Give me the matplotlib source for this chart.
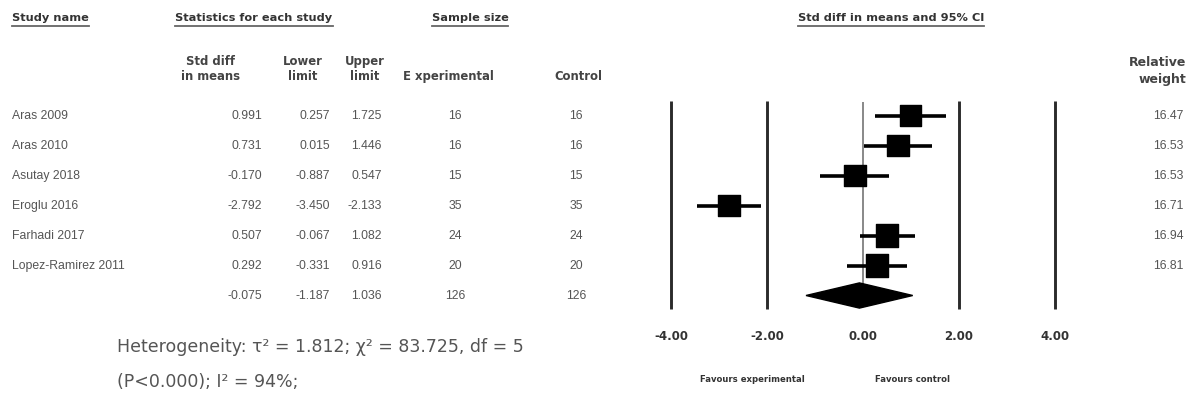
import matplotlib.pyplot as plt
import matplotlib.transforms as mtransforms
from matplotlib.patches import Polygon

# study level results (std diff in means, 95% CI), sample sizes, relative weights
studies = ["Aras 2009", "Aras 2010", "Asutay 2018", "Eroglu 2016",
           "Farhadi 2017", "Lopez-Ramirez 2011"]
smd = [0.991, 0.731, -0.170, -2.792, 0.507, 0.292]
lower = [0.257, 0.015, -0.887, -3.450, -0.067, -0.331]
upper = [1.725, 1.446, 0.547, -2.133, 1.082, 0.916]
n_exp = [16, 16, 15, 35, 24, 20]
n_ctl = [16, 16, 15, 35, 24, 20]
weights = [16.47, 16.53, 16.53, 16.71, 16.94, 16.81]

# pooled estimate
pooled = [-0.075, -1.187, 1.036]
pooled_n = [126, 126]

ticks = [-4.00, -2.00, 0.00, 2.00, 4.00]
het_lines = ["Heterogeneity: \u03c4\u00b2 = 1.812; \u03c7\u00b2 = 83.725, df = 5",
             "(P<0.000); I\u00b2 = 94%;"]

W, H = 1194, 406
fig = plt.figure(figsize=(W / 100, H / 100), dpi=100)
ax = fig.add_axes([0, 0, 1, 1])
ax.axis("off")

# x: 48 px per unit, zero at px 863 ; y: one row per 30 px, first row at px 116.5
ax.set_xlim((0 - 863) / 48, (W - 863) / 48)
ax.set_ylim((H - 116.5) / 30, -116.5 / 30)


def row_at(py):
    return (py - 116.5) / 30


trans = mtransforms.blended_transform_factory(ax.transAxes, ax.transData)


def col(px, y, s, ha="right", **kw):
    return ax.text(px / W, y, s, transform=trans, ha=ha, va="center", **kw)


hdr = dict(fontsize=8.2, fontweight="bold", color="#333333", family="DejaVu Sans")
sub = dict(fontsize=8.4, fontweight="bold", color="#444444", family="DejaVu Sans",
           linespacing=1.25)
body = dict(fontsize=8.8, color="#555555", family="Liberation Sans")

# header row with underlines
y0 = row_at(18)
heads = []
for px, s, ha in [(12, "Study name", "left"), (254, "Statistics for each study", "center"),
                  (470, "Sample size", "center"), (891, "Std diff in means and 95% CI", "center")]:
    heads.append(col(px, y0, s, ha=ha, **hdr))
fig.canvas.draw()
for t in heads:
    bb = t.get_window_extent()
    fig.add_artist(plt.Line2D([bb.x0 / W, bb.x1 / W], [1 - 27 / H, 1 - 27 / H],
                              color="#666666", lw=1.3))

# column headers
y1 = row_at(69)
col(210, y1, "Std diff\nin means", ha="center", **sub)
col(303, y1, "Lower\nlimit", ha="center", **sub)
col(365, y1, "Upper\nlimit", ha="center", **sub)
col(448, row_at(77), "E xperimental", ha="center", **sub)
col(578, row_at(77), "Control", ha="center", **sub)
col(1186, row_at(71), "Relative\nweight", ha="right",
    **dict(sub, fontsize=9, linespacing=1.35))

# study rows
for i, name in enumerate(studies):
    col(12, i, name, ha="left", **body)
    col(262, i, f"{smd[i]:.3f}", **body)
    col(330, i, f"{lower[i]:.3f}", **body)
    col(382, i, f"{upper[i]:.3f}", **body)
    col(455, i, str(n_exp[i]), ha="center", **body)
    col(576, i, str(n_ctl[i]), ha="center", **body)
    col(1184, i, f"{weights[i]:.2f}", **body)

ys = list(range(len(studies)))
ps = len(studies)
col(262, ps, f"{pooled[0]:.3f}", **body)
col(330, ps, f"{pooled[1]:.3f}", **body)
col(382, ps, f"{pooled[2]:.3f}", **body)
col(455, ps, str(pooled_n[0]), ha="center", **body)
col(576, ps, str(pooled_n[1]), ha="center", **body)

# reference lines
ax.vlines([t for t in ticks if t != 0], row_at(102), row_at(310), color="#2b2b2b", lw=2.1)
ax.vlines(0, row_at(103), row_at(300), color="#888888", lw=1.4)

# CIs and squares
ax.hlines(ys, lower, upper, color="black", lw=2.6)
ax.scatter(smd, ys, marker="s", s=[w * 15 for w in weights], color="black", zorder=3)

# pooled diamond
h = 0.42
ax.add_patch(Polygon([(pooled[1], ps), (pooled[0], ps - h), (pooled[2], ps),
                      (pooled[0], ps + h)], closed=True, color="black", zorder=3))

# tick labels
for t in ticks:
    ax.text(t, row_at(337), f"{t:.2f}", ha="center", va="center", fontsize=8.5,
            fontweight="bold", color="#333333", family="DejaVu Sans")

ax.text(-3.40, row_at(380), "Favours experimental", ha="left", va="center",
        fontsize=6.1, fontweight="bold", color="#333333", family="DejaVu Sans")
ax.text(0.25, row_at(380), "Favours control", ha="left", va="center",
        fontsize=6.1, fontweight="bold", color="#333333", family="DejaVu Sans")

# heterogeneity statistics
col(117, row_at(347), het_lines[0], ha="left", fontsize=12.5, color="#555555",
    family="DejaVu Sans")
col(117, row_at(382), het_lines[1], ha="left", fontsize=12.5, color="#555555",
    family="DejaVu Sans")

fig.savefig("out.png", dpi=100, facecolor="white")
